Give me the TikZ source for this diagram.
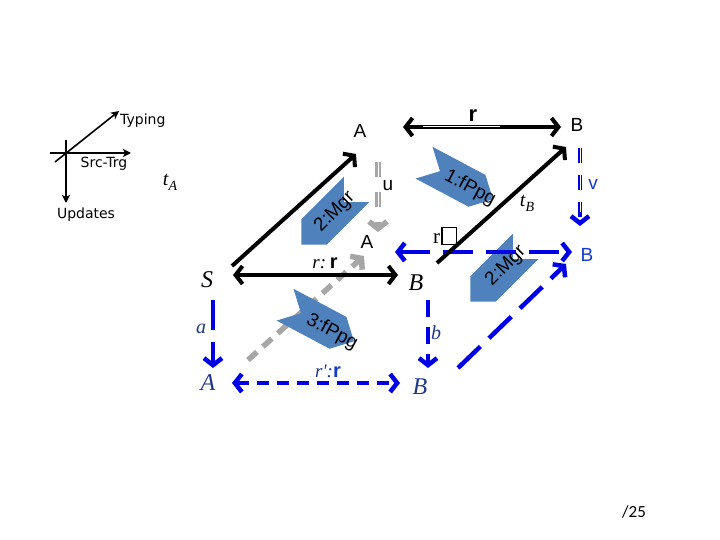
\documentclass[tikz,border=0pt]{standalone}
\usepackage{fontspec}
\setmainfont{Liberation Sans}
\newfontfamily\legendfont{DejaVu Sans}
\newfontfamily\seriffont{Liberation Serif}
\newfontfamily\slidefont{Carlito}
\usetikzlibrary{arrows.meta}
\definecolor{chevblue}{RGB}{79,129,189}
\definecolor{dblue}{RGB}{0,0,230}
\definecolor{navy}{RGB}{31,56,140}
\definecolor{mblue}{RGB}{20,60,200}
\definecolor{lgray}{RGB}{166,166,166}
\tikzset{
  chev/.pic={\fill[chevblue] (-39,18) -- (21,18) -- (39,0) -- (21,-18) -- (-39,-18) -- (-21,0) -- cycle;},
  legendtxt/.style={font=\legendfont\fontsize{14}{14}\selectfont, inner sep=0pt},
  sanslbl/.style={font=\fontsize{19}{19}\selectfont, inner sep=0pt},
  boldlbl/.style={font=\bfseries\fontsize{22}{22}\selectfont, inner sep=0pt},
  itlbl/.style={font=\seriffont\itshape\fontsize{24}{24}\selectfont, inner sep=0pt},
  smallit/.style={font=\seriffont\itshape\fontsize{20}{20}\selectfont, inner sep=0pt},
  chevtxt/.style={font=\fontsize{19}{19}\selectfont, inner sep=0pt},
  legarrow/.style={line width=1.6pt, -{Stealth[length=8pt,width=8pt,inset=2pt]}},
  blackarrow/.style={line width=4pt, black},
  bluearrow/.style={line width=4.5pt, dblue},
  grayarrow/.style={line width=5.5pt, lgray},
}
\begin{document}
\begin{tikzpicture}[x=1pt,y=-1pt, >={Straight Barb[length=7pt,width=18pt]}]
\useasboundingbox (0,0) rectangle (720,540);
% coordinates
\coordinate (h1) at (50,153); \coordinate (h2) at (131,153);
\coordinate (d1) at (55,162); \coordinate (d2) at (119,111);
\coordinate (v1) at (66,140); \coordinate (v2) at (66,203);
\coordinate (tA1) at (232,266); \coordinate (tA2) at (356,154);
\coordinate (tB1) at (437,263); \coordinate (tB2) at (566,147);
\coordinate (rt1) at (403,127); \coordinate (rt2) at (561,127);
\coordinate (rw1) at (423,127); \coordinate (rw2) at (500,127);
\coordinate (rs1) at (233,275); \coordinate (rs2) at (398,275);
\coordinate (u1) at (378,162); \coordinate (u2) at (378,232);
\coordinate (v1b) at (580,148); \coordinate (v2b) at (580,226);
\coordinate (bh1) at (395,252); \coordinate (bh2) at (572,252);
\coordinate (a1) at (213,300); \coordinate (a2) at (213,368);
\coordinate (b1) at (428,300); \coordinate (b2) at (428,368);
\coordinate (rp1) at (232,383); \coordinate (rp2) at (400,383);
\coordinate (gd1) at (248,360); \coordinate (gd2) at (364,256);
\coordinate (bd1) at (458,368); \coordinate (bd2) at (566,264);

% legend
\draw[legarrow] (h1) -- (h2);
\draw[legarrow] (d1) -- (d2);
\draw[legarrow] (v1) -- (v2);

% gray arrows (behind chevrons)
\draw[grayarrow, dash pattern=on 12pt off 8pt, ->] (gd1) -- (gd2);
\draw[grayarrow, dash pattern=on 15pt off 15pt, ->] (u1) -- (u2);
\draw[white, line width=0.9pt, dash pattern=on 15pt off 15pt, shorten >=14pt] (u1) -- (u2);

% chevrons
\pic[rotate=-28] at (458.5,181) {chev};
\pic[rotate=-28] at (319.5,323) {chev};
\pic[rotate=225] at (329,217) {chev};
\pic[rotate=225] at (498,274) {chev};
\node[chevtxt, rotate=-28] (c1) at (470,188) {1:fPpg};
\node[chevtxt, rotate=-28] (c3) at (332,332) {3:fPpg};
\node[chevtxt, rotate=45] (c2a) at (335,212) {2:Mgr};
\node[chevtxt, rotate=45] (c2b) at (506,266) {2:Mgr};

% blue arrows
\draw[bluearrow, dash pattern=on 30pt off 13pt, <->] (bh1) -- (bh2);
\draw[bluearrow, dash pattern=on 15pt off 12pt, ->] (v1b) -- (v2b);
\draw[white, line width=0.9pt, dash pattern=on 15pt off 12pt, shorten >=14pt] (v1b) -- (v2b);
\draw[bluearrow, dash pattern=on 30pt off 12pt, ->] (a1) -- (a2);
\draw[bluearrow, dash pattern=on 17pt off 10pt, ->] (b1) -- (b2);
\draw[bluearrow, dash pattern=on 12pt off 8pt, <->] (rp1) -- (rp2);
\draw[bluearrow, dash pattern=on 31pt off 12pt, ->] (bd1) -- (bd2);

% black arrows
\draw[blackarrow, ->] (tA1) -- (tA2);
\draw[blackarrow, ->] (tB1) -- (tB2);
\draw[blackarrow, <->] (rt1) -- (rt2);
\draw[white, line width=1pt] (rw1) -- (rw2);
\draw[blackarrow, <->] (rs1) -- (rs2);

% labels
\node[legendtxt, anchor=west] (typing) at (120,121) {Typing};
\node[legendtxt] (srctrg) at (104,164) {Src-Trg};
\node[legendtxt] (updates) at (86,215) {Updates};
\node[smallit] (tAl) at (170,182) {t\raisebox{-5pt}{\fontsize{14}{14}\selectfont A}};
\node[smallit] (tBl) at (527,203) {t\raisebox{-5pt}{\fontsize{14}{14}\selectfont B}};
\node[sanslbl] (Atop) at (360,131) {A};
\node[sanslbl] (Btop) at (577,125) {B};
\node[boldlbl] (rtop) at (473,116) {r};
\node[sanslbl] (ul) at (388,186) {u};
\node[sanslbl, text=mblue] (vl) at (593,184) {v};
\node[sanslbl] (Amid) at (367,242) {A};
\node[sanslbl, text=mblue] (Bright) at (587,255) {B};
\node[inner sep=0pt, font=\seriffont\fontsize{21}{21}\selectfont] (rbox) at (445,236)
  {r\kern1pt\setlength\fboxsep{0pt}\setlength\fboxrule{1.3pt}\fbox{\rule{0pt}{15pt}\hspace{13pt}}};
\node[itlbl] (S) at (207,280) {S};
\node[itlbl] (Bfront) at (416,283) {B};
\node[inner sep=0pt] (rsl) at (325,263) {{\seriffont\itshape\fontsize{19}{19}\selectfont r:} {\bfseries\fontsize{20}{20}\selectfont r}};
\node[smallit, text=navy] (al) at (201,329) {a};
\node[smallit, text=navy] (bl) at (436,333) {b};
\node[itlbl, text=navy] (Abot) at (208,383) {A};
\node[itlbl, text=navy] (Bbot) at (420,387) {B};
\node[inner sep=0pt] (rpl) at (328,371) {{\seriffont\itshape\fontsize{19}{19}\selectfont\color{navy} r':}{\bfseries\fontsize{20}{20}\selectfont\color{mblue}r}};
\node[inner sep=0pt, font=\slidefont\fontsize{17}{17}\selectfont] (page) at (634,512) {/25};
\end{tikzpicture}
\end{document}
